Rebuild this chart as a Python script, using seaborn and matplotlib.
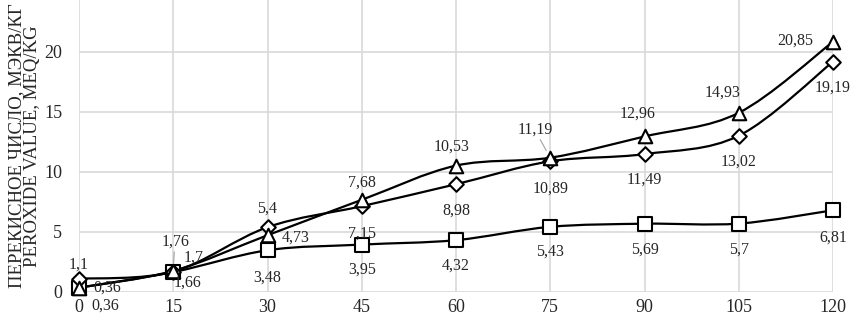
import numpy as np
import pandas as pd
import matplotlib
matplotlib.use('Agg')
import matplotlib.pyplot as plt
from matplotlib.path import Path
from matplotlib.patches import PathPatch
import seaborn as sns

# storage time and peroxide value of the three samples
minutes = [0, 15, 30, 45, 60, 75, 90, 105, 120]
triangle_vals = [0.36, 1.76, 4.73, 7.68, 10.53, 11.19, 12.96, 14.93, 20.85]
diamond_vals = [1.1, 1.7, 5.4, 7.15, 8.98, 10.89, 11.49, 13.02, 19.19]
square_vals = [0.36, 1.66, 3.48, 3.95, 4.32, 5.43, 5.69, 5.7, 6.81]

# label offsets in pixels (dx, dy) for each point
tri_off = [(26, -18), (2, 29), (28, -2), (0, 17), (-4, 19), (-15, 28), (-7, 23), (-16, 20), (-38, 1)]
dia_off = [(0, 14), (20, 14), (0, 19), (0, -27), (0, -26), (0, -27), (0, -26), (0, -26), (0, -26)]
sq_off = [(28, 0), (14, -11), (0, -27), (0, -25), (0, -25), (0, -25), (0, -26), (0, -26), (0, -27)]

sns.set_theme(style="white")
plt.rcParams['font.family'] = ['Liberation Serif', 'DejaVu Serif']

fig = plt.figure(figsize=(8.51, 3.2), dpi=100)
ax = fig.add_axes([79 / 851, 28 / 320, (833 - 79) / 851, 292 / 320])


def smooth_path(xs, ys):
    # excel-like smoothed line: cubic bezier through the points
    p = np.column_stack([xs, ys])
    ext = np.vstack([p[0], p, p[-1]])
    verts = [p[0]]
    codes = [Path.MOVETO]
    for i in range(len(p) - 1):
        a, b, c, d = ext[i], ext[i + 1], ext[i + 2], ext[i + 3]
        verts += [b + (c - a) / 6, c - (d - b) / 6, c]
        codes += [Path.CURVE4] * 3
    return Path(verts, codes)


series = [(square_vals, 's', 100, sq_off), (diamond_vals, 'D', 55, dia_off),
          (triangle_vals, '^', 95, tri_off)]

for vals, mk, size, offs in series:
    ax.add_patch(PathPatch(smooth_path(minutes, vals), fill=False, lw=1.6, ec='black',
                           zorder=2, clip_on=False))
    df = pd.DataFrame({'x': minutes, 'y': vals})
    sns.scatterplot(data=df, x='x', y='y', marker=mk, s=size, facecolor='white',
                    edgecolor='black', linewidth=1.5, ax=ax, zorder=3, clip_on=False)
    for i, (x, v) in enumerate(zip(minutes, vals)):
        txt = f"{v:g}".replace('.', ',')
        ax.annotate(txt, (x, v), xytext=offs[i], textcoords='offset pixels',
                    ha='center', va='center', fontsize=11.5, zorder=4)

# leader lines
ax.annotate('', (15, 1.76), xytext=(1, 19), textcoords='offset pixels',
            arrowprops=dict(arrowstyle='-', color='#a0a0a0', lw=0.8, shrinkA=0, shrinkB=6))
ax.annotate('', (75, 11.19), xytext=(-10, 18), textcoords='offset pixels',
            arrowprops=dict(arrowstyle='-', color='#a0a0a0', lw=0.8, shrinkA=0, shrinkB=6))

ax.set_xlim(0, 120)
ax.set_ylim(0, 24.33)
ax.set_xticks(minutes)
ax.set_yticks([0, 5, 10, 15, 20])
ax.grid(True, color='#d9d9d9', lw=1.2)
ax.set_axisbelow(True)
for sp in ax.spines.values():
    sp.set_visible(False)
ax.tick_params(axis='both', labelsize=13, length=0)
ax.tick_params(axis='x', pad=5)
ax.tick_params(axis='y', pad=12)
ax.set_xlabel('')
ax.set_ylabel('ПЕРЕКИСНОЕ ЧИСЛО, МЭКВ/КГ\nPEROXIDE VALUE, MEQ/KG', fontsize=13.5,
              labelpad=2, linespacing=0.95)

fig.savefig('out.png', dpi=100)
